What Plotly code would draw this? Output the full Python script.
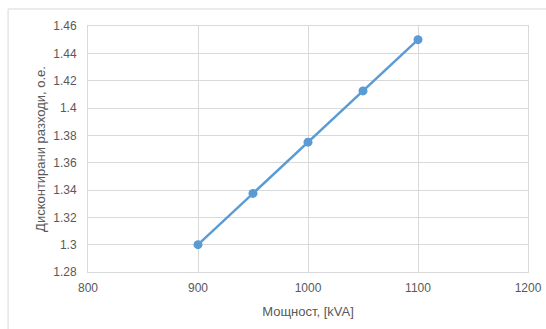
import plotly.graph_objects as go

power_kva = [900, 950, 1000, 1050, 1100]
discounted_costs = [1.3, 1.3375, 1.375, 1.4125, 1.45]

x_title = "Мощност, [kVA]"
y_title = "Дисконтирани разходи, о.е."

W, H = 546, 329
L, R, T, B = 88, 17.5, 26, 57.3
pw, ph = W - L - R, H - T - B

font = dict(family="Liberation Sans, Arial, sans-serif", size=12, color="#595959")
grid = "#D9D9D9"

fig = go.Figure(go.Scatter(
    x=power_kva, y=discounted_costs, mode="lines+markers",
    line=dict(color="#5B9BD5", width=2.4),
    marker=dict(color="#5B9BD5", size=9),
    showlegend=False,
))

fig.update_layout(
    width=W, height=H,
    margin=dict(l=L, r=R, t=T, b=B, autoexpand=False),
    paper_bgcolor="white", plot_bgcolor="white",
    font=font,
    xaxis=dict(range=[800, 1200], dtick=100, tick0=800, showgrid=True, gridcolor=grid,
               gridwidth=1, zeroline=False, showline=True, linecolor=grid, mirror=True,
               automargin=False,
               ticks="outside", ticklen=5, tickcolor="rgba(0,0,0,0)",
               title=dict(text=x_title, standoff=12, font=dict(size=13, color="#595959"))),
    yaxis=dict(range=[1.28, 1.46], dtick=0.02, tick0=1.28, showgrid=True, gridcolor=grid,
               gridwidth=1, zeroline=False, showline=True, linecolor=grid, mirror=True,
               automargin=False,
               ticks="outside", ticklen=8, tickcolor="rgba(0,0,0,0)",
               title=dict(text=y_title, standoff=4, font=dict(size=13, color="#595959"))),
    shapes=[dict(type="rect", xref="paper", yref="paper",
                 x0=(8 - L) / pw, x1=1.2, y0=-0.5, y1=(H - B - 9) / ph,
                 line=dict(color="#D9D9D9", width=1), fillcolor="rgba(0,0,0,0)", layer="below")],
)

fig.update_yaxes(tickvals=[1.28, 1.30, 1.32, 1.34, 1.36, 1.38, 1.40, 1.42, 1.44, 1.46],
                 ticktext=["1.28", "1.3", "1.32", "1.34", "1.36", "1.38", "1.4", "1.42", "1.44", "1.46"])

fig.write_html("out.html")
